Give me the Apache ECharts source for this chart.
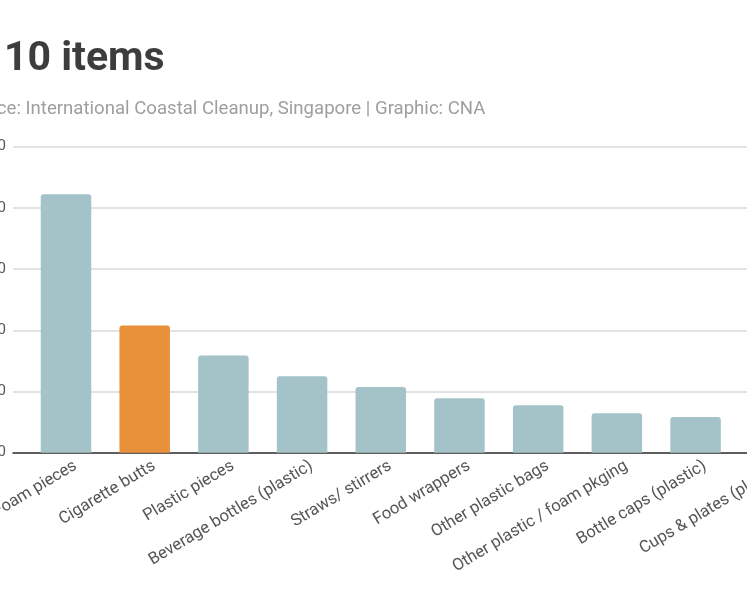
<!DOCTYPE html>
<html>
<head>
<meta charset="utf-8">
<script src="https://cdn.jsdelivr.net/npm/echarts@6/dist/echarts.min.js"></script>
<style>
html,body{margin:0;padding:0;background:#fff;overflow:hidden;width:747px;height:598px;}
#c{position:absolute;left:-100px;top:0;width:940px;height:598px;}
</style>
</head>
<body>
<div id="c"></div>
<script>
const titleText = 'Top 10 items';
const subtitleText = 'Source: International Coastal Cleanup, Singapore | Graphic: CNA';
const categories = ['Foam pieces','Cigarette butts','Plastic pieces','Beverage bottles (plastic)','Straws/ stirrers','Food wrappers','Other plastic bags','Other plastic / foam pkging','Bottle caps (plastic)','Cups & plates (plastic)'];
const values = [8450, 4160, 3180, 2500, 2150, 1780, 1550, 1290, 1170, 1050];
const highlightIndex = 1;
const yMin = 0, yMax = 10000, yInterval = 2000;

const OFFSET = 100; // container shifted left
const ctx = document.createElement('canvas').getContext('2d');
ctx.font = 'bold 41px Roboto';
const hiddenTitle = ctx.measureText('Top ').width;
ctx.font = '18.6px Roboto';
const hiddenSub = ctx.measureText('Sour').width;

const idx = categories.map((c,i)=>i);
const labelShift = 0.12;

const chart = echarts.init(document.getElementById('c'), null, {renderer:'canvas'});
chart.setOption({
  backgroundColor:'#fff',
  animation:false,
  title:[
    {text:titleText, left: OFFSET - 1 - hiddenTitle, top: 34,
     textStyle:{fontFamily:'Roboto', fontWeight:'bold', fontSize:41, color:'#3d3d3d', lineHeight:41}},
    {text:subtitleText, left: OFFSET - 8 - hiddenSub, top: 95,
     textStyle:{fontFamily:'Roboto', fontWeight:'normal', fontSize:18.6, color:'#9e9e9e', lineHeight:19}}
  ],
  grid:{left:113, width:800.6, top:146.7, bottom:145.3, containLabel:false},
  xAxis:{type:'value', min:-0.6734, max:9.5,
    axisLine:{show:true, onZero:false, lineStyle:{color:'#333', width:1.5}},
    axisTick:{show:false},
    splitLine:{show:false},
    axisLabel:{rotate:31, fontFamily:'Roboto', fontSize:16.6, color:'#555', margin:12,
      customValues: idx.map(i=>i+labelShift),
      formatter: v => categories[Math.round(v)] || ''}
  },
  yAxis:{type:'value', min:yMin, max:yMax, interval:yInterval,
    axisLine:{show:false}, axisTick:{show:false},
    splitLine:{lineStyle:{color:'#d9d9d9', width:1.5}},
    axisLabel:{fontFamily:'Roboto', fontSize:15, color:'#555', margin:7,
      formatter: v => v.toLocaleString('en-US')}
  },
  series:[{type:'bar', barWidth:50.5,
    data: values.map((v,i)=>({value:[i, v], itemStyle:{color: i===highlightIndex ? '#e8913a' : '#a3c3c8'}})),
    itemStyle:{borderRadius:[3,3,0,0]}
  }]
});
</script>
</body>
</html>
